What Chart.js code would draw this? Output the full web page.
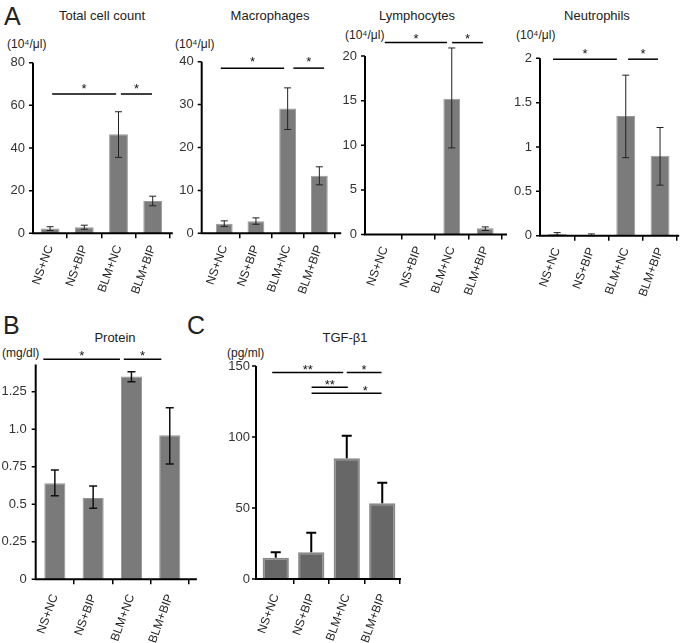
<!DOCTYPE html>
<html>
<head>
<meta charset="utf-8">
<script src="https://cdn.jsdelivr.net/npm/chart.js@4.4.1/dist/chart.umd.min.js"></script>
<style>
  body { margin: 0; background: #fff; }
  #fig { position: relative; width: 685px; height: 643px; overflow: hidden; font-family: "Liberation Sans", Arial, sans-serif; color: #222; }
  #fig canvas { position: absolute; }
  .title { position: absolute; width: 160px; text-align: center; font-size: 13px; line-height: 13px; white-space: nowrap; }
  .unit { position: absolute; font-size: 12px; line-height: 12px; white-space: nowrap; }
  .letter { position: absolute; font-size: 25px; line-height: 25px; }
</style>
</head>
<body>
<div id="fig">
  <div class="letter" style="left:4px;top:4px">A</div>
  <div class="letter" style="left:3px;top:313px">B</div>
  <div class="letter" style="left:187px;top:313px">C</div>

  <div class="title" style="left:22px;top:9px">Total cell count</div>
  <div class="title" style="left:190px;top:9px">Macrophages</div>
  <div class="title" style="left:337px;top:9px">Lymphocytes</div>
  <div class="title" style="left:517px;top:9px">Neutrophils</div>
  <div class="title" style="left:35px;top:331px">Protein</div>
  <div class="title" style="left:265px;top:331px">TGF-β1</div>

  <div class="unit" style="left:7px;top:38px">(10⁴/μl)</div>
  <div class="unit" style="left:175px;top:38px">(10⁴/μl)</div>
  <div class="unit" style="left:345px;top:29px">(10⁴/μl)</div>
  <div class="unit" style="left:516px;top:29px">(10⁴/μl)</div>
  <div class="unit" style="left:2px;top:347px">(mg/dl)</div>
  <div class="unit" style="left:227px;top:347px">(pg/ml)</div>

  <canvas id="total"></canvas>
  <canvas id="macro"></canvas>
  <canvas id="lympho"></canvas>
  <canvas id="neutro"></canvas>
  <canvas id="protein"></canvas>
  <canvas id="tgf"></canvas>
</div>
<script>
const groups = ['NS+NC', 'NS+BIP', 'BLM+NC', 'BLM+BIP'];

// A - total cell count
const totalMean = [2.3, 2.8, 46.4, 15.2];
const totalLow  = [1.3, 1.9, 35.6, 12.9];
const totalHigh = [3.1, 3.8, 57.0, 17.4];
const totalTicks = [0, 20, 40, 60, 80];
const totalSig = [
  { from: 0.06, to: 1.93, y: 65.3, text: '*' },
  { from: 2.07, to: 2.98, y: 65.3, text: '*' }
];

// A - macrophages
const macroMean = [2.2, 2.8, 29.1, 13.4];
const macroLow  = [1.6, 2.1, 24.2, 11.3];
const macroHigh = [2.9, 3.6, 33.9, 15.5];
const macroTicks = [0, 10, 20, 30, 40];
const macroSig = [
  { from: -0.11, to: 1.89, y: 38.5, text: '*' },
  { from: 2.18, to: 3.15, y: 38.5, text: '*' }
];

// A - lymphocytes
const lymphoMean = [0, 0, 15.2, 0.7];
const lymphoLow  = [null, null, 9.7, 0.45];
const lymphoHigh = [null, null, 20.9, 0.85];
const lymphoTicks = [0, 5, 10, 15, 20];
const lymphoSig = [
  { from: 0.0, to: 1.86, y: 21.5, text: '*' },
  { from: 2.01, to: 2.93, y: 21.5, text: '*' }
];

// A - neutrophils
const neutroMean = [0.02, 0.005, 1.35, 0.9];
const neutroLow  = [0.005, 0, 0.88, 0.57];
const neutroHigh = [0.035, 0.02, 1.81, 1.22];
const neutroTicks = [0, 0.5, 1, 1.5, 2];
const neutroSig = [
  { from: -0.12, to: 1.74, y: 1.99, text: '*' },
  { from: 2.07, to: 2.94, y: 1.99, text: '*' }
];

// B - protein
const proteinMean = [0.64, 0.542, 1.35, 0.96];
const proteinLow  = [0.557, 0.473, 1.316, 0.768];
const proteinHigh = [0.728, 0.622, 1.383, 1.143];
const proteinTicks = [0, 0.25, 0.5, 0.75, 1.0, 1.25];
const proteinTickLabels = ['0', '0.25', '0.5', '0.75', '1.0', '1.25'];
const proteinSig = [
  { from: -0.3, to: 1.7, y: 1.466, text: '*' },
  { from: 1.8, to: 2.78, y: 1.466, text: '*' }
];

// C - TGF-beta1
const tgfMean = [15.0, 18.8, 85.0, 53.3];
const tgfHigh = [18.8, 32.6, 100.9, 67.8];
const tgfTicks = [0, 50, 100, 150];
const tgfSig = [
  { from: -0.1, to: 1.9, y: 145.5, text: '**' },
  { from: 2.0, to: 2.98, y: 145.5, text: '*' },
  { from: 1.01, to: 2.03, y: 135, text: '**' },
  { from: 1.01, to: 2.98, y: 130.8, text: '*', at: 2.52 }
];

const FONT = '"Liberation Sans", Arial, sans-serif';

// page placement of every panel (box = canvas left, top, width, height)
const layouts = {
  total:   { box: [0, 30, 180, 282],   axisX: 33,    catLeft: 33,    catW: 34.2, top: 62.7,  bottom: 233.3, overhang: 3, labelGap: 8, xPad: 5 },
  macro:   { box: [172, 30, 178, 282], axisX: 201.7, catLeft: 208.4, catW: 31.7, top: 61.7,  bottom: 233.3, overhang: 6, labelGap: 8, xPad: 5 },
  lympho:  { box: [336, 25, 179, 287], axisX: 365,   catLeft: 368,   catW: 33.5, top: 56,    bottom: 234.5, overhang: 5, labelGap: 8, xPad: 5 },
  neutro:  { box: [508, 25, 177, 287], axisX: 540,   catLeft: 540,   catW: 34.3, top: 58.3,  bottom: 235.7, overhang: 2, labelGap: 8, xPad: 5 },
  protein: { box: [0, 340, 205, 303],  axisX: 35.7,  catLeft: 35.7,  catW: 38.3, top: 364.6, bottom: 579.3, overhang: 8, labelGap: 9, xPad: 8 },
  tgf:     { box: [215, 340, 195, 303], axisX: 256,  catLeft: 258,   catW: 35.5, top: 366,   bottom: 579,   overhang: 1, labelGap: 6, xPad: 8 }
};

const thinStyle = { fill: '#7b7b7b', edge: '#9a9a9a', edgeWidth: 1, barPct: 0.55, errColor: '#222', errWidth: 1, cap: 3.5, starGap: 1.5 };

function makePanel(id, d, st) {
  const lay = layouts[id];
  const [L, T, W, H] = lay.box;
  const cv = document.getElementById(id);
  cv.width = W; cv.height = H;
  cv.style.left = L + 'px'; cv.style.top = T + 'px';
  const right = lay.catLeft + 4 * lay.catW;

  const deco = {
    id: 'deco_' + id,
    afterDatasetsDraw(chart) {
      const c = chart.ctx, xs = chart.scales.x, ys = chart.scales.y, a = chart.chartArea;
      const ax = lay.axisX - L;
      c.save();
      // error bars
      c.strokeStyle = st.errColor;
      c.lineWidth = st.errWidth;
      d.mean.forEach((m, i) => {
        if (d.high[i] == null) return;
        const px = xs.getPixelForValue(i);
        const yh = ys.getPixelForValue(d.high[i]);
        const yl = ys.getPixelForValue(d.low ? d.low[i] : m);
        c.beginPath();
        c.moveTo(px, yl); c.lineTo(px, yh);
        c.moveTo(px - st.cap, yh); c.lineTo(px + st.cap, yh);
        if (d.low) { c.moveTo(px - st.cap, yl); c.lineTo(px + st.cap, yl); }
        c.stroke();
      });
      // axes
      c.strokeStyle = '#000';
      c.lineWidth = 2;
      c.beginPath();
      c.moveTo(ax, a.top); c.lineTo(ax, a.bottom);
      c.moveTo(ax - 1, a.bottom); c.lineTo(a.right + lay.overhang, a.bottom);
      c.stroke();
      c.lineWidth = 1.5;
      c.beginPath();
      ys.ticks.forEach(t => {
        const yy = ys.getPixelForValue(t.value);
        c.moveTo(ax - 4, yy); c.lineTo(ax, yy);
      });
      c.stroke();
      // significance bars
      c.lineWidth = 1.5;
      c.fillStyle = '#111';
      c.font = '13px ' + FONT;
      c.textAlign = 'center';
      c.textBaseline = 'alphabetic';
      d.sig.forEach(s => {
        const yy = ys.getPixelForValue(s.y);
        c.beginPath();
        c.moveTo(xs.getPixelForValue(s.from), yy);
        c.lineTo(xs.getPixelForValue(s.to), yy);
        c.stroke();
        const tx = xs.getPixelForValue(s.at != null ? s.at : (s.from + s.to) / 2);
        c.fillText(s.text, tx, yy - st.starGap);
      });
      c.restore();
    }
  };

  new Chart(cv, {
    type: 'bar',
    data: {
      labels: groups,
      datasets: [{
        data: d.mean,
        backgroundColor: st.fill,
        borderColor: st.edge,
        borderWidth: st.edgeWidth,
        barPercentage: st.barPct,
        categoryPercentage: 1
      }]
    },
    options: {
      responsive: false,
      animation: false,
      events: [],
      layout: { autoPadding: false, padding: { left: 0, right: L + W - right, top: lay.top - T, bottom: 0 } },
      plugins: { legend: { display: false }, tooltip: { enabled: false } },
      scales: {
        x: {
          grid: {
            offset: true, drawOnChartArea: false, drawTicks: true, tickLength: 5, lineWidth: 1.5,
            color: ctx => ctx.index === 0 ? 'rgba(0,0,0,0)' : '#000'
          },
          border: { display: false },
          ticks: { autoSkip: false, minRotation: 70, maxRotation: 70, padding: lay.xPad, color: '#222', font: { family: FONT, size: 12 } },
          afterFit: s => { s.height = T + H - lay.bottom; }
        },
        y: {
          min: 0,
          max: d.max,
          grid: { display: false, drawTicks: false },
          border: { display: false },
          ticks: {
            padding: lay.catLeft - lay.axisX + lay.labelGap,
            color: '#333',
            font: { family: FONT, size: 13 },
            callback: (v, i) => d.tickLabels ? d.tickLabels[i] : String(v)
          },
          afterBuildTicks: s => { s.ticks = d.ticks.map(v => ({ value: v })); },
          afterFit: s => { s.width = lay.catLeft - L; }
        }
      }
    },
    plugins: [deco]
  });
}

makePanel('total', { mean: totalMean, low: totalLow, high: totalHigh, ticks: totalTicks, max: 80, sig: totalSig }, thinStyle);
makePanel('macro', { mean: macroMean, low: macroLow, high: macroHigh, ticks: macroTicks, max: 40, sig: macroSig }, Object.assign({}, thinStyle, { barPct: 0.53, starGap: 2.5 }));
makePanel('lympho', { mean: lymphoMean, low: lymphoLow, high: lymphoHigh, ticks: lymphoTicks, max: 20, sig: lymphoSig }, Object.assign({}, thinStyle, { barPct: 0.5, starGap: 0 }));
makePanel('neutro', { mean: neutroMean, low: neutroLow, high: neutroHigh, ticks: neutroTicks, max: 2, sig: neutroSig }, thinStyle);
makePanel('protein', { mean: proteinMean, low: proteinLow, high: proteinHigh, ticks: proteinTicks, tickLabels: proteinTickLabels, max: 1.43, sig: proteinSig },
  { fill: '#7a7a7a', edge: '#959595', edgeWidth: 1, barPct: 0.55, errColor: '#111', errWidth: 1.5, cap: 4, starGap: -0.5 });
makePanel('tgf', { mean: tgfMean, low: null, high: tgfHigh, ticks: tgfTicks, max: 150, sig: tgfSig },
  { fill: '#676767', edge: '#8a8a8a', edgeWidth: 2, barPct: 0.74, errColor: '#000', errWidth: 2, cap: 5, starGap: -1.5 });
</script>
</body>
</html>
